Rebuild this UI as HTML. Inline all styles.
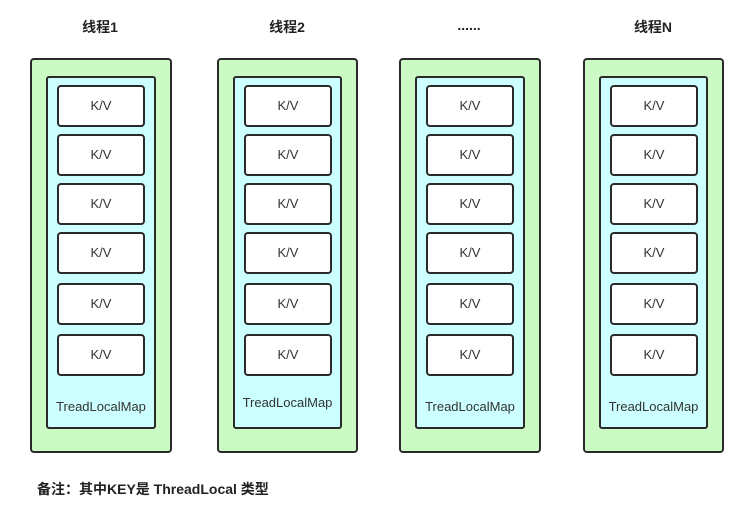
<!DOCTYPE html>
<html><head><meta charset="utf-8"><style>
body{margin:0;width:756px;height:519px;background:#fff;position:relative;overflow:hidden;font-family:"Liberation Sans","Noto Sans CJK SC",sans-serif;}
.t{position:absolute;top:17px;font-size:14px;font-weight:bold;color:#222;text-align:center;width:140px;}
.o{position:absolute;top:58px;height:395px;box-sizing:border-box;border:2px solid #2a2a2a;border-radius:4px;background:#ccfac4;}
.i{position:absolute;top:76px;height:353px;box-sizing:border-box;border:2px solid #2a2a2a;border-radius:3px;background:#ccffff;}
.k{position:absolute;height:42px;box-sizing:border-box;border:2px solid #2a2a2a;border-radius:4px;background:#fff;font-size:13px;color:#333;text-align:center;line-height:38px;}
.m{position:absolute;font-size:13px;color:#333;text-align:center;}
.n{position:absolute;left:37px;top:479px;font-size:14px;font-weight:bold;color:#222;}
</style></head><body>
<div class="t" style="left:30px">线程1</div>
<div class="t" style="left:217px">线程2</div>
<div class="t" style="left:399px">......</div>
<div class="t" style="left:583px">线程N</div>

<div class="o" style="left:30px;width:142px"></div>
<div class="o" style="left:217px;width:141px"></div>
<div class="o" style="left:399px;width:142px"></div>
<div class="o" style="left:583px;width:141px"></div>

<div class="i" style="left:46px;width:110px"></div>
<div class="i" style="left:233px;width:109px"></div>
<div class="i" style="left:415px;width:110px"></div>
<div class="i" style="left:599px;width:109px"></div>

<div class="k" style="left:57px;top:85px;width:88px">K/V</div>
<div class="k" style="left:57px;top:134px;width:88px">K/V</div>
<div class="k" style="left:57px;top:183px;width:88px">K/V</div>
<div class="k" style="left:57px;top:232px;width:88px">K/V</div>
<div class="k" style="left:57px;top:283px;width:88px">K/V</div>
<div class="k" style="left:57px;top:334px;width:88px">K/V</div>

<div class="k" style="left:244px;top:85px;width:88px">K/V</div>
<div class="k" style="left:244px;top:134px;width:88px">K/V</div>
<div class="k" style="left:244px;top:183px;width:88px">K/V</div>
<div class="k" style="left:244px;top:232px;width:88px">K/V</div>
<div class="k" style="left:244px;top:283px;width:88px">K/V</div>
<div class="k" style="left:244px;top:334px;width:88px">K/V</div>

<div class="k" style="left:426px;top:85px;width:88px">K/V</div>
<div class="k" style="left:426px;top:134px;width:88px">K/V</div>
<div class="k" style="left:426px;top:183px;width:88px">K/V</div>
<div class="k" style="left:426px;top:232px;width:88px">K/V</div>
<div class="k" style="left:426px;top:283px;width:88px">K/V</div>
<div class="k" style="left:426px;top:334px;width:88px">K/V</div>

<div class="k" style="left:610px;top:85px;width:88px">K/V</div>
<div class="k" style="left:610px;top:134px;width:88px">K/V</div>
<div class="k" style="left:610px;top:183px;width:88px">K/V</div>
<div class="k" style="left:610px;top:232px;width:88px">K/V</div>
<div class="k" style="left:610px;top:283px;width:88px">K/V</div>
<div class="k" style="left:610px;top:334px;width:88px">K/V</div>

<div class="m" style="left:46px;width:110px;top:399px">TreadLocalMap</div>
<div class="m" style="left:233px;width:109px;top:395px">TreadLocalMap</div>
<div class="m" style="left:415px;width:110px;top:399px">TreadLocalMap</div>
<div class="m" style="left:599px;width:109px;top:399px">TreadLocalMap</div>

<div class="n">备注：其中KEY是 ThreadLocal 类型</div>
</body></html>
